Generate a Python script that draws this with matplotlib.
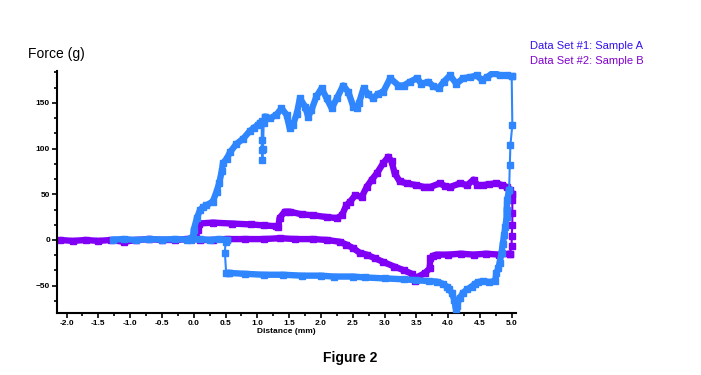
import matplotlib
matplotlib.use("Agg")
import matplotlib.pyplot as plt
from matplotlib.ticker import MultipleLocator, FormatStrFormatter

plt.rcParams['font.family'] = ['Liberation Sans', 'DejaVu Sans']

# Sample A (blue) - dense approach/compression part
blue_push_x = [-1.27, -1.1, -0.9, -0.7, -0.5, -0.3, -0.1, -0.01, 0.0, 0.05, 0.10, 0.15, 0.20, 0.30,
               0.36, 0.40, 0.44, 0.46, 0.52, 0.57, 0.67, 0.78, 0.88, 0.95, 1.01, 1.05]
blue_push_y = [0.5, 1, 0, 1, 0.5, 1, 0.5, 3.6, 11, 24, 33, 36, 38, 42,
               53, 62, 75, 84, 89, 96, 105, 111, 119, 123, 126, 128]
# the short spike down near 1.07 mm (few points)
blue_dip_x = [1.05, 1.07, 1.07, 1.07, 1.08, 1.09, 1.10, 1.12]
blue_dip_y = [128, 130, 109, 98, 87, 100, 128, 135]
blue_top_x = [1.12, 1.20, 1.30, 1.38, 1.46, 1.51, 1.56, 1.62, 1.67, 1.75,
              1.80, 1.85, 1.93, 2.01, 2.09, 2.17, 2.25, 2.35, 2.43, 2.51, 2.56, 2.60, 2.67, 2.74,
              2.82, 2.90, 2.98, 3.09, 3.22, 3.30, 3.40, 3.51, 3.58, 3.69, 3.77, 3.85, 3.93, 4.03,
              4.13, 4.24, 4.34, 4.45, 4.53, 4.61, 4.71, 4.82, 4.92, 5.0]
blue_top_y = [135, 133, 137, 144, 137, 122, 126, 138, 155, 146,
              135, 142, 157, 166, 155, 144, 155, 169, 162, 146, 144, 150, 166, 160,
              155, 160, 162, 177, 169, 169, 173, 177, 171, 173, 168, 166, 173, 180,
              171, 177, 178, 180, 175, 178, 183, 180, 180, 179]
# sparse drop at full compression
blue_drop_x = [5.0, 5.01, 4.98, 4.97, 4.96]
blue_drop_y = [179, 126, 104, 82, 55]
# dense retraction part
blue_back_x = [4.96, 4.93, 4.92, 4.92, 4.90, 4.88, 4.86, 4.84, 4.81, 4.79, 4.76, 4.74, 4.65, 4.55,
               4.47, 4.42, 4.37, 4.30, 4.23, 4.18, 4.14, 4.12, 4.10, 4.06, 4.02, 3.98, 3.92, 3.82,
               3.70, 3.50, 3.30, 3.00, 2.70, 2.50, 2.20, 2.00, 1.70, 1.40, 1.10, 0.80, 0.55]
blue_back_y = [55, 44, 33, 25, 14, 5, -4, -14, -25, -31, -36, -45, -46, -45,
               -46, -48, -51, -54, -58, -64, -72, -75, -66, -58, -54, -51, -48, -45.5,
               -45, -44, -43, -42, -41, -40, -40, -39, -39, -38, -38, -37, -36]
# sparse release
blue_rel_x = [0.55, 0.51, 0.49, 0.50, 0.52]
blue_rel_y = [-36, -36, -14, -2, 0]
blue_rest_x = [0.52, 0.40, 0.25, 0.10, -0.05]
blue_rest_y = [0, 1, 0, 1, 0]

# Sample B (purple)
purple_push_x = [-2.1, -1.9, -1.7, -1.5, -1.3, -1.1, -0.9, -0.7, -0.5, -0.3, -0.1, 0.03, 0.06, 0.08,
                 0.30, 0.60, 0.90, 1.10, 1.30, 1.33, 1.35, 1.43, 1.51, 1.70, 1.88, 2.10, 2.25, 2.33,
                 2.40, 2.46, 2.54, 2.64, 2.72, 2.80, 2.88, 2.98, 3.06, 3.11, 3.16, 3.24, 3.35, 3.50,
                 3.62, 3.72, 3.87, 3.95, 4.03, 4.19, 4.30, 4.40, 4.46, 4.55, 4.65, 4.76, 4.85, 4.92,
                 4.98, 5.0]
purple_push_y = [0, -1, 0, -1, 0, -2, 0, 1, 0, 0, 1, 2, 11, 18,
                 19, 18, 17, 16, 15, 14, 24, 31, 31, 28, 27, 25, 24, 27,
                 38, 42, 49, 47, 58, 66, 73, 84, 91, 86, 73, 64, 62, 60,
                 58, 58, 62, 59, 58, 62, 60, 66, 60, 60, 61, 62, 60, 58,
                 55, 50]
purple_drop_x = [5.0, 5.01, 5.01, 5.01, 5.0, 5.0, 4.97]
purple_drop_y = [50, 44, 30, 16, 4, -7, -15]
purple_back_x = [4.97, 4.80, 4.60, 4.40, 4.20, 4.00, 3.82, 3.77, 3.72, 3.71, 3.64, 3.53, 3.48, 3.43,
                 3.30, 3.15, 2.98, 2.85, 2.72, 2.61, 2.51, 2.40, 2.30, 2.10, 1.88, 1.60, 1.36, 1.10,
                 0.80, 0.52, 0.30, 0.10]
purple_back_y = [-15, -16, -15, -16, -15, -16, -16, -17, -20, -31, -36, -40, -45, -37,
                 -33, -29, -24, -20, -16, -14, -9, -5, -2, 0, 1, 1, 2, 1,
                 1, 1, 0, 0]

blue = '#2f86ff'
purple = '#7f00f5'

fig = plt.figure(figsize=(7.01, 3.75), dpi=100)
ax = fig.add_axes([0.0813, 0.165, 0.655, 0.646])

def dense(x, y, c, z):
    ax.plot(x, y, color=c, lw=4.6, marker='s', ms=5, solid_joinstyle='round',
            solid_capstyle='round', zorder=z)

def sparse(x, y, c, z):
    ax.plot(x, y, color=c, lw=1.5, marker='s', ms=4.5, zorder=z)

dense(purple_push_x, purple_push_y, purple, 2)
sparse(purple_drop_x, purple_drop_y, purple, 2)
dense(purple_back_x, purple_back_y, purple, 2)

dense(blue_push_x, blue_push_y, blue, 3)
sparse(blue_dip_x, blue_dip_y, blue, 3)
dense(blue_top_x, blue_top_y, blue, 3)
sparse(blue_drop_x, blue_drop_y, blue, 3)
dense(blue_back_x, blue_back_y, blue, 3)
sparse(blue_rel_x, blue_rel_y, blue, 3)
dense(blue_rest_x, blue_rest_y, blue, 3)

ax.set_xlim(-2.15, 5.07)
ax.set_ylim(-80, 185)
ax.spines['top'].set_visible(False)
ax.spines['right'].set_visible(False)
ax.spines['left'].set_linewidth(1.5)
ax.spines['bottom'].set_linewidth(1.5)

ax.xaxis.set_major_locator(MultipleLocator(0.5))
ax.xaxis.set_minor_locator(MultipleLocator(0.25))
ax.xaxis.set_major_formatter(FormatStrFormatter('%.1f'))
ax.yaxis.set_major_locator(MultipleLocator(50))
ax.yaxis.set_minor_locator(MultipleLocator(50 / 3))
ax.tick_params(which='major', direction='out', length=3.5, width=1.2, labelsize=6, pad=1.5)
ax.tick_params(which='minor', direction='out', length=2, width=1.2)
for lab in ax.get_xticklabels() + ax.get_yticklabels():
    lab.set_fontweight('bold')

ax.set_xlabel('Distance (mm)', fontsize=6, fontweight='bold', labelpad=1)
fig.text(0.04, 0.845, 'Force (g)', fontsize=10)
fig.text(0.756, 0.87, 'Data Set #1: Sample A', fontsize=8, color='#3311ee')
fig.text(0.756, 0.83, 'Data Set #2: Sample B', fontsize=8, color='#8000d0')
fig.text(0.5, 0.035, 'Figure 2', fontsize=10, fontweight='bold', ha='center')

fig.savefig('out.png', dpi=100)
